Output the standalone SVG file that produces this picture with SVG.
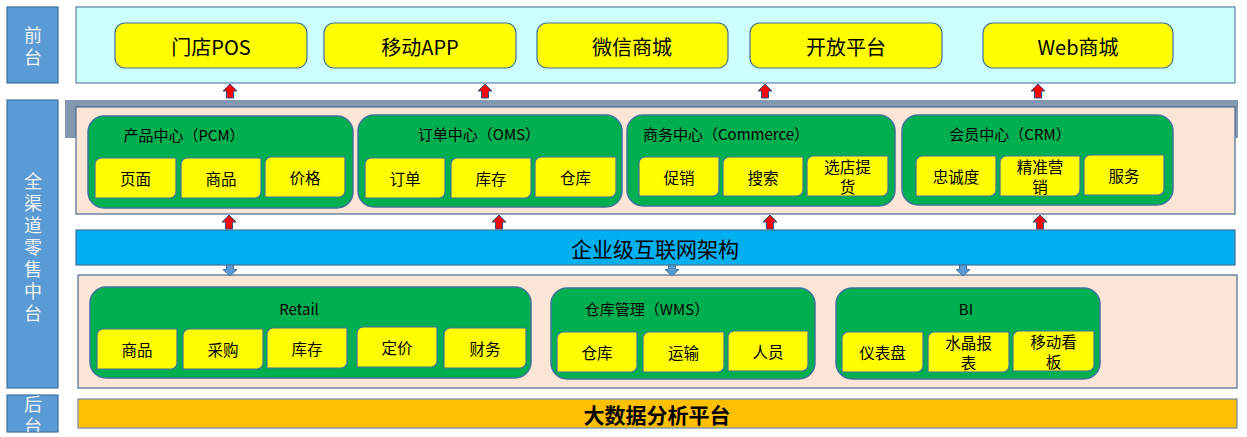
<svg xmlns="http://www.w3.org/2000/svg" width="1247" height="437" viewBox="0 0 1247 437">
<style>
text{font-family:"Noto Sans CJK SC","Noto Sans",sans-serif;fill:#000;text-anchor:middle;dominant-baseline:central}
.side{fill:#5B9BD5;stroke:#41719C;stroke-width:1.2}
.sidet{fill:#F2F2F2;font-size:18px;writing-mode:vertical-rl;text-orientation:upright;letter-spacing:4px}
.front{fill:#CCFFFF;stroke:#5F7FA6;stroke-width:1.2}
.fbox{fill:#FFFF00;stroke:#41719C;stroke-width:1.2}
.ft{font-size:20px}
.peach{fill:#FBE5D6;stroke:#4A6A91;stroke-width:1.2}
.green{fill:#00B050;stroke:#41719C;stroke-width:1.5}
.gt{font-size:15px}
.sub{fill:#FFFF00;stroke:#41719C;stroke-width:1.2}
.st{font-size:15.5px}
.up{fill:#FF0000;stroke:#2F528F;stroke-width:1}
.down{fill:#5B9BD5;stroke:#41719C;stroke-width:1}
</style>
<defs>
<path id="upArrow" d="M0,0 L7,7 L3.5,7 L3.5,14 L-3.5,14 L-3.5,7 L-7,7 Z"/>
<path id="downArrow" d="M-3.5,0 L3.5,0 L3.5,4.5 L7,4.5 L0,11 L-7,4.5 L-3.5,4.5 Z"/>
<clipPath id="backClip"><rect x="7" y="395" width="51" height="37"/></clipPath>
</defs>

<g id="side-front">
<rect class="side" x="7" y="7" width="51" height="76"/>
<text class="sidet" x="33" y="48">前台</text>
</g>
<g id="side-middle">
<rect class="side" x="7" y="100" width="51" height="288"/>
<text class="sidet" x="33" y="249.5">全渠道零售中台</text>
</g>
<g id="side-back">
<rect class="side" x="7" y="395" width="51" height="37"/>
<g clip-path="url(#backClip)">
<text class="sidet" x="33" y="417">后台</text>
</g>
</g>

<g id="front-panel">
<rect class="front" x="76" y="7" width="1159" height="76"/>
</g>
<g id="pos"><rect class="fbox" x="115" y="23" width="192" height="45" rx="10"/><text class="ft" x="211" y="46">门店POS</text></g>
<g id="app"><rect class="fbox" x="324" y="23" width="192" height="45" rx="10"/><text class="ft" x="420" y="46">移动APP</text></g>
<g id="wechat"><rect class="fbox" x="537" y="23" width="191" height="45" rx="10"/><text class="ft" x="632" y="46">微信商城</text></g>
<g id="open"><rect class="fbox" x="750" y="23" width="192" height="45" rx="10"/><text class="ft" x="846" y="46">开放平台</text></g>
<g id="web"><rect class="fbox" x="983" y="23" width="190" height="45" rx="10"/><text class="ft" x="1078" y="46">Web商城</text></g>

<g id="middle-panel">
<rect x="65" y="100" width="1173" height="38" fill="#8497B0"/>
<rect class="peach" x="76" y="107" width="1159" height="107"/>
</g>

<g id="pcm">
<rect class="green" x="88" y="116" width="265" height="92" rx="16"/>
<text class="gt" x="184" y="134">产品中心（PCM）</text>
<path class="sub" d="M101,158 H176 V192 A6,6 0 0 1 170,198 H95 V164 A6,6 0 0 1 101,158 Z"/><text class="st" x="135.5" y="178">页面</text>
<path class="sub" d="M187,158 H261 V192 A6,6 0 0 1 255,198 H181 V164 A6,6 0 0 1 187,158 Z"/><text class="st" x="221" y="178">商品</text>
<path class="sub" d="M271,157 H345 V191 A6,6 0 0 1 339,197 H265 V163 A6,6 0 0 1 271,157 Z"/><text class="st" x="305" y="177">价格</text>
</g>
<g id="oms">
<rect class="green" x="358" y="115" width="264" height="92" rx="16"/>
<text class="gt" x="479" y="133">订单中心（OMS）</text>
<path class="sub" d="M371,158 H445 V192 A6,6 0 0 1 439,198 H365 V164 A6,6 0 0 1 371,158 Z"/><text class="st" x="405" y="178">订单</text>
<path class="sub" d="M457,158 H531 V192 A6,6 0 0 1 525,198 H451 V164 A6,6 0 0 1 457,158 Z"/><text class="st" x="491" y="178">库存</text>
<path class="sub" d="M541,157 H616 V191 A6,6 0 0 1 610,197 H535 V163 A6,6 0 0 1 541,157 Z"/><text class="st" x="575.5" y="177">仓库</text>
</g>
<g id="commerce">
<rect class="green" x="627" y="115" width="268" height="91" rx="16"/>
<text class="gt" x="726" y="133">商务中心（Commerce）</text>
<path class="sub" d="M645,157 H719 V190 A6,6 0 0 1 713,196 H639 V163 A6,6 0 0 1 645,157 Z"/><text class="st" x="679" y="176.5">促销</text>
<path class="sub" d="M729,157 H803 V190 A6,6 0 0 1 797,196 H723 V163 A6,6 0 0 1 729,157 Z"/><text class="st" x="763" y="176.5">搜索</text>
<path class="sub" d="M813,156 H888 V190 A6,6 0 0 1 882,196 H807 V162 A6,6 0 0 1 813,156 Z"/><text class="st"><tspan x="847.5" y="166">选店提</tspan><tspan x="847.5" y="186">货</tspan></text>
</g>
<g id="crm">
<rect class="green" x="902" y="115" width="271" height="90" rx="16"/>
<text class="gt" x="1010" y="133">会员中心（CRM）</text>
<path class="sub" d="M922,156 H996 V190 A6,6 0 0 1 990,196 H916 V162 A6,6 0 0 1 922,156 Z"/><text class="st" x="956" y="176">忠诚度</text>
<path class="sub" d="M1006,156 H1080 V190 A6,6 0 0 1 1074,196 H1000 V162 A6,6 0 0 1 1006,156 Z"/><text class="st"><tspan x="1040" y="166">精准营</tspan><tspan x="1040" y="186">销</tspan></text>
<path class="sub" d="M1090,155 H1164 V189 A6,6 0 0 1 1158,195 H1084 V161 A6,6 0 0 1 1090,155 Z"/><text class="st" x="1124" y="175">服务</text>
</g>

<g id="enterprise">
<rect x="76" y="230" width="1159" height="35" fill="#00B0F0" stroke="#41719C" stroke-width="1.2"/>
<text x="655" y="248" font-size="21px">企业级互联网架构</text>
</g>

<g id="back-panel">
<rect class="peach" x="78" y="275" width="1159" height="113" stroke="#6F8BAE"/>
</g>
<g id="retail">
<rect class="green" x="90" y="287" width="441" height="91" rx="16"/>
<text class="gt" x="299" y="308">Retail</text>
<path class="sub" d="M103,329 H177 V363 A6,6 0 0 1 171,369 H97 V335 A6,6 0 0 1 103,329 Z"/><text class="st" x="137" y="349">商品</text>
<path class="sub" d="M189,329 H263 V363 A6,6 0 0 1 257,369 H183 V335 A6,6 0 0 1 189,329 Z"/><text class="st" x="223" y="349">采购</text>
<path class="sub" d="M273,328 H347 V362 A6,6 0 0 1 341,368 H267 V334 A6,6 0 0 1 273,328 Z"/><text class="st" x="307" y="348">库存</text>
<path class="sub" d="M363,327 H437 V361 A6,6 0 0 1 431,367 H357 V333 A6,6 0 0 1 363,327 Z"/><text class="st" x="397" y="347">定价</text>
<path class="sub" d="M450,328 H526 V362 A6,6 0 0 1 520,368 H444 V334 A6,6 0 0 1 450,328 Z"/><text class="st" x="485" y="348">财务</text>
</g>
<g id="wms">
<rect class="green" x="551" y="288" width="264" height="91" rx="16"/>
<text class="gt" x="647" y="308">仓库管理（WMS）</text>
<path class="sub" d="M563,332 H637 V366 A6,6 0 0 1 631,372 H557 V338 A6,6 0 0 1 563,332 Z"/><text class="st" x="597" y="352">仓库</text>
<path class="sub" d="M649,332 H724 V366 A6,6 0 0 1 718,372 H643 V338 A6,6 0 0 1 649,332 Z"/><text class="st" x="683.5" y="352">运输</text>
<path class="sub" d="M734,331 H808 V365 A6,6 0 0 1 802,371 H728 V337 A6,6 0 0 1 734,331 Z"/><text class="st" x="768" y="351">人员</text>
</g>
<g id="bi">
<rect class="green" x="836" y="288" width="264" height="91" rx="16"/>
<text class="gt" x="966" y="308">BI</text>
<path class="sub" d="M848,332 H923 V366 A6,6 0 0 1 917,372 H842 V338 A6,6 0 0 1 848,332 Z"/><text class="st" x="882.5" y="352">仪表盘</text>
<path class="sub" d="M934,332 H1009 V366 A6,6 0 0 1 1003,372 H928 V338 A6,6 0 0 1 934,332 Z"/><text class="st"><tspan x="968.5" y="342">水晶报</tspan><tspan x="968.5" y="362">表</tspan></text>
<path class="sub" d="M1019,331 H1094 V365 A6,6 0 0 1 1088,371 H1013 V337 A6,6 0 0 1 1019,331 Z"/><text class="st"><tspan x="1053.5" y="341">移动看</tspan><tspan x="1053.5" y="361">板</tspan></text>
</g>

<g id="bigdata">
<rect x="78" y="399" width="1159" height="29" fill="#FFC000" stroke="#6F8BAE" stroke-width="1.2"/>
<text x="657" y="414" font-size="21px" font-weight="bold">大数据分析平台</text>
</g>

<g id="connectors">
<use href="#upArrow" class="up" x="230" y="84"/>
<use href="#upArrow" class="up" x="485" y="84"/>
<use href="#upArrow" class="up" x="765" y="84"/>
<use href="#upArrow" class="up" x="1038" y="84"/>
<use href="#upArrow" class="up" x="229" y="215"/>
<use href="#upArrow" class="up" x="499" y="215"/>
<use href="#upArrow" class="up" x="770" y="215"/>
<use href="#upArrow" class="up" x="1040" y="215"/>
<use href="#downArrow" class="down" x="230" y="265"/>
<use href="#downArrow" class="down" x="672" y="265"/>
<use href="#downArrow" class="down" x="963" y="265"/>
</g>
</svg>
